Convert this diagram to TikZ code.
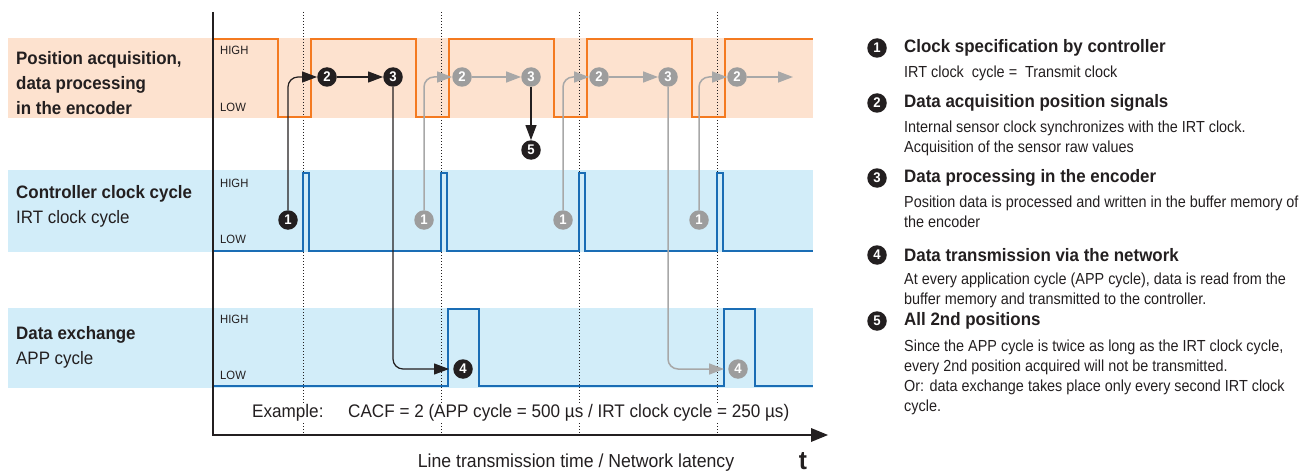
\documentclass[tikz,border=0pt]{standalone}
\usepackage{fontspec}
\setmainfont{Liberation Sans}[FakeStretch=0.94]
\newfontfamily\bodyfont{Liberation Sans}[FakeStretch=0.9]
\usetikzlibrary{arrows.meta}
\definecolor{orln}{HTML}{F47A20}
\definecolor{orbg}{HTML}{FDE2CF}
\definecolor{blln}{HTML}{1A6DB5}
\definecolor{blbg}{HTML}{D2EDF9}
\definecolor{gr}{HTML}{9D9D9D}
\definecolor{grl}{HTML}{A8A8A8}
\definecolor{tx}{HTML}{231F20}
\begin{document}
\begin{tikzpicture}[x=1pt,y=-1pt,
  num/.style={circle,fill=tx,text=white,font=\bfseries\fontsize{14}{14}\selectfont,minimum size=19.5pt,inner sep=0pt},
  gnum/.style={num,fill=gr},
  lbl/.style={align=left,inner sep=0pt,text=tx,font=\fontsize{18}{25}\selectfont},
  hl/.style={anchor=west,inner sep=0pt,text=tx,font=\fontsize{12}{12}\selectfont},
  ttl/.style={anchor=west,inner sep=0pt,text=tx,font=\bfseries\fontsize{18}{22}\selectfont},
  bdy/.style={anchor=north west,align=left,inner sep=0pt,text=tx,font=\bodyfont\fontsize{16}{19.8}\selectfont},
  sig/.style={line width=2.2pt,line join=miter},
  vdot/.style={line width=0.8pt,dash pattern=on 1pt off 2pt,tx},
  barr/.style={line width=1.2pt,tx,rounded corners=10pt,-{Triangle[length=15pt,width=11pt]}},
  garr/.style={line width=1.5pt,grl,rounded corners=10pt,-{Triangle[length=15pt,width=11pt]}},
  ex/.style={anchor=west,fill=white,inner sep=2pt,text=tx,font=\fontsize{18.2}{22}\selectfont}
]
\useasboundingbox (0,0) rectangle (1311,476);

% bands
\fill[orbg] (8,38) rectangle (813,118);
\fill[blbg] (8,170) rectangle (813,252);
\fill[blbg] (8,308) rectangle (813,388);

% dotted time marks
\foreach \x in {303,441,579,717} \draw[vdot] (\x,12) -- (\x,435);

% example text (white background interrupts dotted lines)
\node[ex] (exa) at (250,413) {Example:};
\node[ex] (exb) at (346,413) {CACF = 2 (APP cycle = 500 µs / IRT clock cycle = 250 µs)};

% signals
\draw[sig,orln] (213,39) -- (278,39) -- (278,117) -- (311,117) -- (311,39) -- (416,39) -- (416,117) -- (449,117) -- (449,39) -- (554,39) -- (554,117) -- (587,117) -- (587,39) -- (692,39) -- (692,117) -- (725,117) -- (725,39) -- (813,39);
\draw[sig,blln] (213,251) -- (303,251) -- (303,173) -- (309,173) -- (309,251) -- (441,251) -- (441,173) -- (447,173) -- (447,251) -- (579,251) -- (579,173) -- (585,173) -- (585,251) -- (717,251) -- (717,173) -- (723,173) -- (723,251) -- (813,251);
\draw[sig,blln] (213,386) -- (448,386) -- (448,309) -- (479,309) -- (479,386) -- (724,386) -- (724,309) -- (755,309) -- (755,386) -- (813,386);

% axes
\draw[line width=2pt,tx] (213,12) -- (213,435) -- (812,435);
\fill[tx] (828,435) -- (811,428) -- (811,442) -- cycle;

% HIGH / LOW labels
\node[hl] (h1) at (220,50) {HIGH};
\node[hl] (l1) at (220,107) {LOW};
\node[hl] (h2) at (220,183) {HIGH};
\node[hl] (l2) at (220,239) {LOW};
\node[hl] (h3) at (220,319) {HIGH};
\node[hl] (l3) at (220,375) {LOW};

% left labels
\node[lbl,anchor=west] (lab1) at (16,83) {\textbf{Position acquisition,}\\\textbf{data processing}\\\textbf{in the encoder}};
\node[lbl,anchor=west] (lab2) at (16,206) {\textbf{Controller clock cycle}\\IRT clock cycle};
\node[lbl,anchor=west] (lab3) at (16,347) {\textbf{Data exchange}\\APP cycle};

% numbered markers in diagram
\node[num] (a1) at (288,220) {1};
\node[num] (a2) at (327,77) {2};
\node[num] (a3) at (393,77) {3};
\node[num] (a4) at (463,369) {4};
\node[num] (a5) at (531,150) {5};
\node[gnum] (b1) at (424,220) {1};
\node[gnum] (b2) at (462,77) {2};
\node[gnum] (b3) at (531,77) {3};
\node[gnum] (c1) at (563,220) {1};
\node[gnum] (c2) at (599,77) {2};
\node[gnum] (c3) at (668,77) {3};
\node[gnum] (c4) at (738,369) {4};
\node[gnum] (d1) at (699,220) {1};
\node[gnum] (d2) at (737,77) {2};
\coordinate (dend) at (793,77);

% connectors
\draw[barr] (a1.north) |- (a2.west);
\draw[barr] (a2.east) -- (a3.west);
\draw[barr,shorten >=4pt] (a3.south) |- (a4.west);
\draw[garr] (b1.north) |- (b2.west);
\draw[garr] (b2.east) -- (b3.west);
\draw[barr] (b3.south) -- (a5.north);
\draw[garr] (c1.north) |- (c2.west);
\draw[garr] (c2.east) -- (c3.west);
\draw[garr,shorten >=4pt] (c3.south) |- (c4.west);
\draw[garr] (d1.north) |- (d2.west);
\draw[garr] (d2.east) -- (dend);

% axis captions
\node[inner sep=0pt,text=tx,font=\fontsize{18.8}{22}\selectfont] (xcap) at (576,463) {Line transmission time / Network latency};
\node[inner sep=0pt,text=tx,font=\bfseries\fontsize{26}{26}\selectfont] (tcap) at (803,461) {t};

% legend
\node[num] (k1) at (877,48) {1};
\node[ttl] (t1) at (904,48) {Clock specification by controller};
\node[bdy] (d1t) at (904,66) {IRT clock\ \ cycle =\ \ Transmit clock};
\node[num] (k2) at (877,103) {2};
\node[ttl] (t2) at (904,103) {Data acquisition position signals};
\node[bdy] (d2t) at (904,121) {Internal sensor clock synchronizes with the IRT clock.\\Acquisition of the sensor raw values};
\node[num] (k3) at (877,178) {3};
\node[ttl] (t3) at (904,178) {Data processing in the encoder};
\node[bdy] (d3t) at (904,196) {Position data is processed and written in the buffer memory of\\the encoder};
\node[num] (k4) at (877,255) {4};
\node[ttl] (t4) at (904,255) {Data transmission via the network};
\node[bdy] (d4t) at (904,273) {At every application cycle (APP cycle), data is read from the\\buffer memory and transmitted to the controller.};
\node[num] (k5) at (877,321) {5};
\node[ttl] (t5) at (904,321) {All 2nd positions};
\node[bdy] (d5t) at (904,340) {Since the APP cycle is twice as long as the IRT clock cycle,\\every 2nd position acquired will not be transmitted.\\Or: data exchange takes place only every second IRT clock\\cycle.};
\end{tikzpicture}
\end{document}
